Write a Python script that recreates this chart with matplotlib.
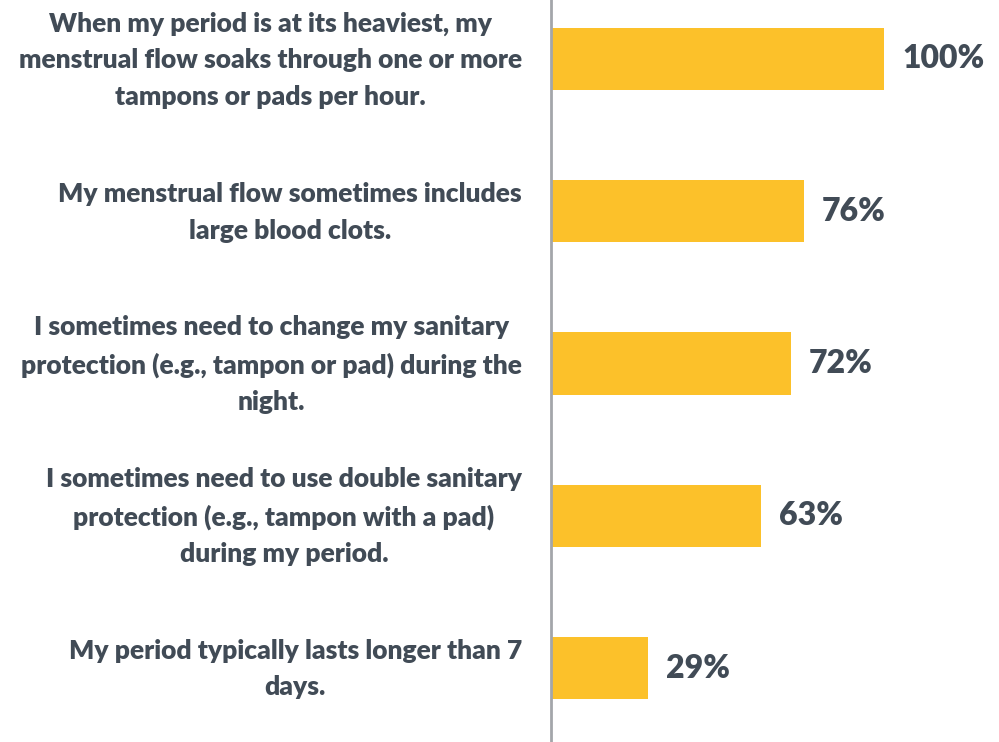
import matplotlib.pyplot as plt
import matplotlib.transforms as mtransforms

labels = [
    "When my period is at its heaviest, my\nmenstrual flow soaks through one or more\ntampons or pads per hour.",
    "My menstrual flow sometimes includes\nlarge blood clots.",
    "I sometimes need to change my sanitary\nprotection (e.g., tampon or pad) during the\nnight.",
    "I sometimes need to use double sanitary\nprotection (e.g., tampon with a pad)\nduring my period.",
    "My period typically lasts longer than 7\ndays.",
]
values = [100, 76, 72, 63, 29]

bar_color = "#FCC12A"
text_color = "#414B56"

plt.rcParams['font.family'] = ['Lato', 'DejaVu Sans']

fig = plt.figure(figsize=(9.99, 7.42), dpi=100)
ax = fig.add_axes([551 / 999, 0, 1 - 551 / 999, 1])

pos = list(range(len(values)))
ax.barh(pos, values, height=0.41, color=bar_color)
ax.set_xlim(0, 100 * (999 - 551) / (884 - 551))
ax.set_ylim(4.486, -0.3875)

for p, v in zip(pos, values):
    ax.annotate(f"{v}%", (v, p), xytext=(13, 0), textcoords="offset points",
                va="center", ha="left", fontsize=23, fontweight="heavy",
                color=text_color)

ax.set_yticks(pos)
ax.set_yticklabels(labels, fontsize=19, fontweight="heavy", color=text_color,
                   multialignment="center", linespacing=1.62)
ax.tick_params(axis="y", length=0, pad=21)
ax.set_xticks([])

# nudge the labels up a little so they sit centred on the bars
shift = mtransforms.ScaledTranslation(0, 0.07, fig.dpi_scale_trans)
for lbl in ax.get_yticklabels():
    lbl.set_transform(lbl.get_transform() + shift)

for s in ["top", "right", "bottom"]:
    ax.spines[s].set_visible(False)
ax.spines["left"].set_color("#A3A6AA")
ax.spines["left"].set_linewidth(2)

fig.savefig("out.png", dpi=100)
